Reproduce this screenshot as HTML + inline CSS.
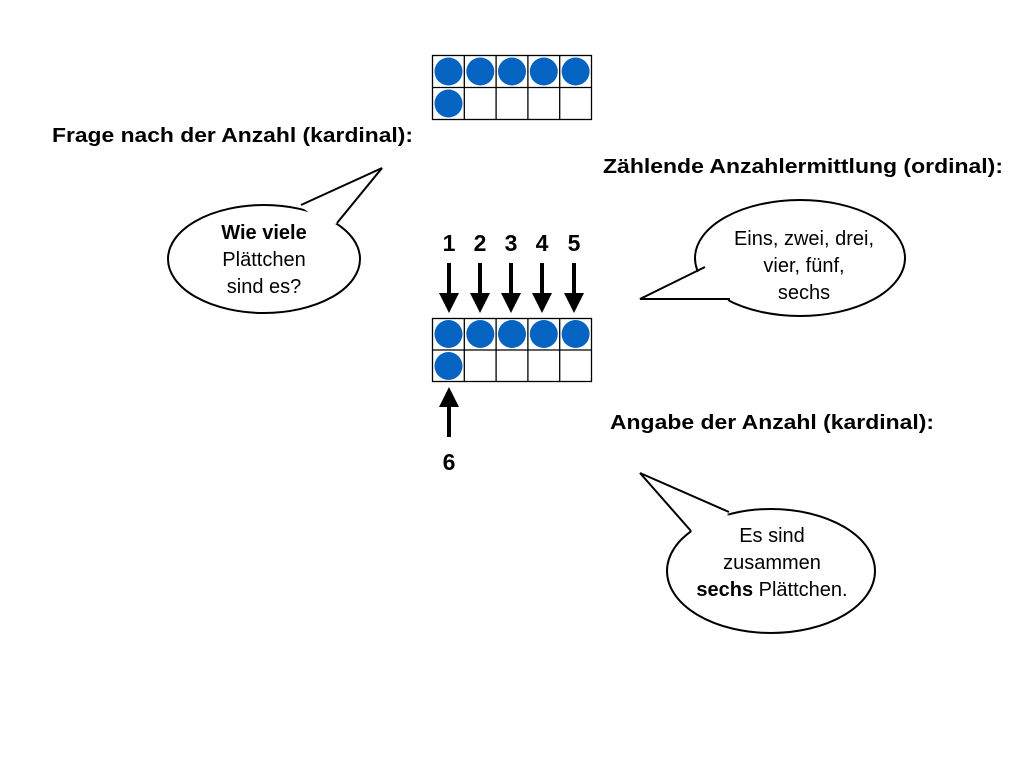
<!DOCTYPE html>
<html><head><meta charset="utf-8"><style>
html,body{margin:0;padding:0;background:#fff;}
svg{display:block;font-family:"Liberation Sans",Arial,sans-serif;}
</style></head><body>
<svg width="1024" height="768" viewBox="0 0 1024 768" xmlns="http://www.w3.org/2000/svg">
<rect width="1024" height="768" fill="#fff"/>
<g stroke="#000" stroke-width="1.3" fill="none">
<rect x="432.5" y="55.5" width="159" height="64"/>
<line x1="432.5" y1="87.5" x2="591.5" y2="87.5"/>
<line x1="464.3" y1="55.5" x2="464.3" y2="119.5"/>
<line x1="496.1" y1="55.5" x2="496.1" y2="119.5"/>
<line x1="527.9" y1="55.5" x2="527.9" y2="119.5"/>
<line x1="559.7" y1="55.5" x2="559.7" y2="119.5"/>
</g>
<g fill="#0563c1">
<circle cx="448.5" cy="71.5" r="14"/><circle cx="480.3" cy="71.5" r="14"/><circle cx="512" cy="71.5" r="14"/><circle cx="543.8" cy="71.5" r="14"/><circle cx="575.6" cy="71.5" r="14"/>
<circle cx="448.5" cy="103.5" r="14"/>
</g>
<g stroke="#000" stroke-width="1.3" fill="none">
<rect x="432.5" y="318.5" width="159" height="63"/>
<line x1="432.5" y1="350" x2="591.5" y2="350"/>
<line x1="464.3" y1="318.5" x2="464.3" y2="381.5"/>
<line x1="496.1" y1="318.5" x2="496.1" y2="381.5"/>
<line x1="527.9" y1="318.5" x2="527.9" y2="381.5"/>
<line x1="559.7" y1="318.5" x2="559.7" y2="381.5"/>
</g>
<g fill="#0563c1">
<circle cx="448.5" cy="334" r="14"/><circle cx="480.3" cy="334" r="14"/><circle cx="512" cy="334" r="14"/><circle cx="543.8" cy="334" r="14"/><circle cx="575.6" cy="334" r="14"/>
<circle cx="448.5" cy="366" r="14"/>
</g>
<g fill="#000">
<g transform="translate(449,0)"><rect x="-2" y="263" width="4" height="34"/><polygon points="-10,293 10,293 0,313"/></g>
<g transform="translate(480,0)"><rect x="-2" y="263" width="4" height="34"/><polygon points="-10,293 10,293 0,313"/></g>
<g transform="translate(511,0)"><rect x="-2" y="263" width="4" height="34"/><polygon points="-10,293 10,293 0,313"/></g>
<g transform="translate(542,0)"><rect x="-2" y="263" width="4" height="34"/><polygon points="-10,293 10,293 0,313"/></g>
<g transform="translate(574,0)"><rect x="-2" y="263" width="4" height="34"/><polygon points="-10,293 10,293 0,313"/></g>
<g transform="translate(449,0)"><rect x="-2" y="403" width="4" height="34"/><polygon points="-10,407 10,407 0,387"/></g>
</g>
<g font-weight="bold" font-size="23" text-anchor="middle" fill="#000">
<text x="449" y="251">1</text><text x="480" y="251">2</text><text x="511" y="251">3</text><text x="542" y="251">4</text><text x="574" y="251">5</text>
<text x="449" y="470">6</text>
</g>
<g font-weight="bold" font-size="20" fill="#000">
<text x="52" y="142" textLength="361" lengthAdjust="spacingAndGlyphs">Frage nach der Anzahl (kardinal):</text>
<text x="603" y="173" textLength="400" lengthAdjust="spacingAndGlyphs">Zählende Anzahlermittlung (ordinal):</text>
<text x="610" y="429" textLength="324" lengthAdjust="spacingAndGlyphs">Angabe der Anzahl (kardinal):</text>
</g>
<g stroke="#000" stroke-width="2" fill="#fff">
<ellipse cx="264" cy="259" rx="96" ry="54"/>
<ellipse cx="800" cy="258" rx="105" ry="58"/>
<ellipse cx="771" cy="571" rx="104" ry="62"/>
</g>
<g fill="#fff" stroke="none">
<polygon points="301,207 382,168 336,224 320,220"/>
<polygon points="706,268 640,299 729,302 720,290"/>
<polygon points="729,515 640,473 692,532 705,525"/>
</g>
<g fill="none" stroke="#000" stroke-width="2" stroke-linejoin="miter">
<polyline points="301,205 382,168 337,223"/>
<polyline points="705,267 640,299 730,299"/>
<polyline points="729,512 640,473 691,531"/>
</g>
<g font-size="20" text-anchor="middle" fill="#000">
<text x="264" y="239" font-weight="bold">Wie viele</text>
<text x="264" y="266">Plättchen</text>
<text x="264" y="293">sind es?</text>
<text x="804" y="245">Eins, zwei, drei,</text>
<text x="804" y="272">vier, fünf,</text>
<text x="804" y="299">sechs</text>
<text x="772" y="542">Es sind</text>
<text x="772" y="569">zusammen</text>
<text x="772" y="596"><tspan font-weight="bold">sechs</tspan> Plättchen.</text>
</g>
</svg>
</body></html>
